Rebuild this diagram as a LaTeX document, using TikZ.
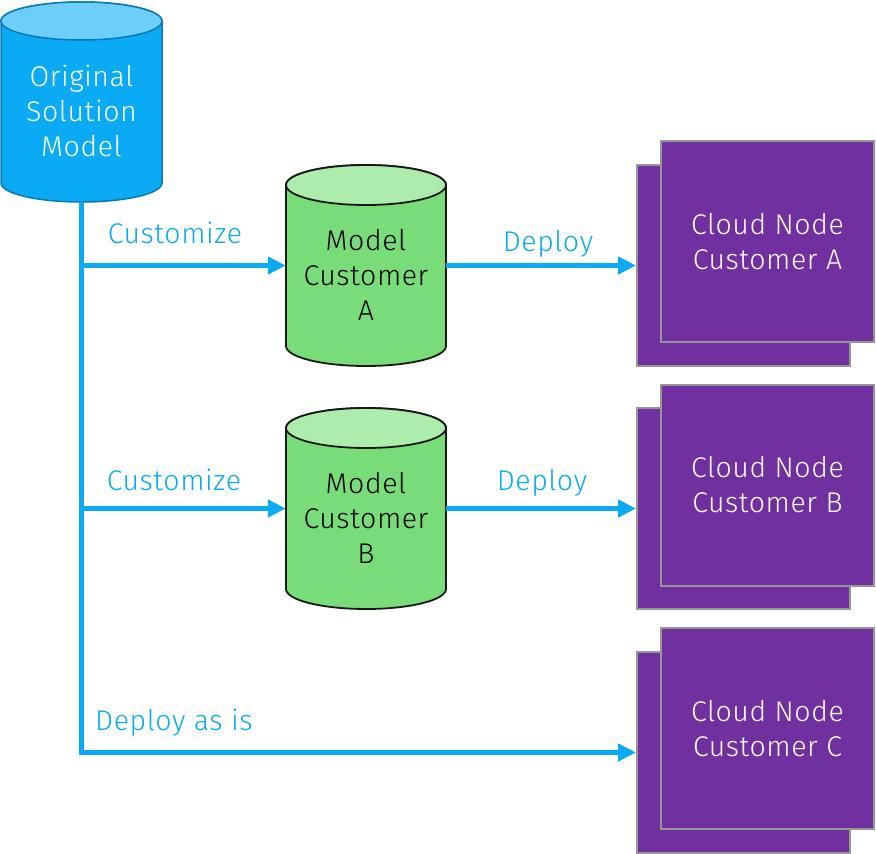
\documentclass[tikz,border=0pt]{standalone}
\usepackage{fontspec}
\setmainfont{Fira Sans Light}[LetterSpace=2]
\usetikzlibrary{arrows.meta}
\definecolor{cblue}{RGB}{10,170,245}
\definecolor{cbluetop}{RGB}{110,206,250}
\definecolor{cbluedark}{RGB}{10,120,180}
\definecolor{cgreen}{RGB}{120,221,120}
\definecolor{cgreentop}{RGB}{172,236,172}
\definecolor{cpurple}{RGB}{112,48,160}
\definecolor{cgray}{RGB}{150,150,150}
\newcommand{\drawcyl}[9]{% x1 x2 ytop ybot ry body top stroke strokewidth
  \pgfmathsetmacro{\cylrx}{(#2-#1)/2}
  \pgfmathsetmacro{\cylcx}{(#2+#1)/2}
  \filldraw[fill=#6,draw=#8,line width=#9]
    (#1,#3+#5) -- (#1,#4-#5)
    arc[start angle=180,end angle=0,x radius=\cylrx,y radius=#5]
    -- (#2,#3+#5)
    arc[start angle=0,end angle=-180,x radius=\cylrx,y radius=#5] -- cycle;
  \filldraw[fill=#7,draw=#8,line width=#9] (\cylcx,#3+#5) ellipse[x radius=\cylrx,y radius=#5];
}
\tikzset{
  bigfont/.style={font=\fontsize{28.5}{35}\selectfont},
  txt/.style={bigfont, align=center, inner sep=0pt},
  lbl/.style={bigfont, text=cblue, inner sep=0pt},
  conn/.style={draw=cblue, line width=5pt, -{Triangle[length=18pt,width=17pt]}},
  backbox/.style={draw=cgray, fill=cpurple, line width=2pt, minimum width=213pt, minimum height=201pt, inner sep=0pt},
  frontbox/.style={backbox, text=white, bigfont, align=center},
  cylnode/.style={minimum width=160pt, minimum height=200pt, inner sep=0pt},
}
\begin{document}
\begin{tikzpicture}[x=1pt,y=-1pt]
\useasboundingbox (0,0) rectangle (876,854);
% original model
\drawcyl{1}{162}{2}{202}{19}{cblue}{cbluetop}{cbluedark}{1.5pt}
\node[cylnode, minimum width=161pt] (orig) at (81.5,102) {};
\node[txt, text=white] (origt) at (81.5,111) {Original\\Solution\\Model};
% customer cylinders
\drawcyl{286}{446}{165}{366}{20}{cgreen}{cgreentop}{black!90}{1.8pt}
\node[cylnode, minimum height=201pt] (cA) at (366,265.5) {};
\node[txt] (cAt) at (366,275) {Model\\Customer\\A};
\drawcyl{286}{446}{408}{609}{20}{cgreen}{cgreentop}{black!90}{1.8pt}
\node[cylnode, minimum height=201pt] (cB) at (366,508.5) {};
\node[txt] (cBt) at (366,518) {Model\\Customer\\B};
% cloud nodes
\node[backbox] (bA) at (743.5,265.5) {};
\node[frontbox] (fA) at (767.5,241.5) {Cloud Node\\Customer A};
\node[backbox] (bB) at (743.5,508.5) {};
\node[frontbox] (fB) at (767.5,485) {Cloud Node\\Customer B};
\node[backbox] (bC) at (743.5,752.5) {};
\node[frontbox] (fC) at (767.5,728.5) {Cloud Node\\Customer C};
% connectors
\draw[conn] (orig.south) |- (bC.west);
\draw[conn] (orig.south |- cA.west) -- (cA.west);
\draw[conn] (orig.south |- cB.west) -- (cB.west);
\draw[conn] (cA.east) -- (bA.west);
\draw[conn] (cB.east) -- (bB.west);
% labels
\node[lbl] (l1) at (175,233) {Customize};
\node[lbl] (l2) at (548,243.5) {Deploy};
\node[lbl] (l3) at (174,480) {Customize};
\node[lbl] (l4) at (542,482.5) {Deploy};
\node[lbl, anchor=west] (l5) at (95,722.5) {Deploy as is};
\end{tikzpicture}
\end{document}
